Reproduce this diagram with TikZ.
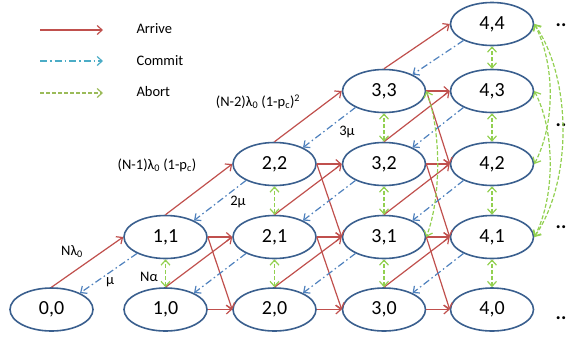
\documentclass[tikz,border=0pt]{standalone}
\usepackage{fontspec}
\setmainfont{Carlito}
\usetikzlibrary{arrows.meta,shapes.geometric}
\definecolor{arrred}{HTML}{C0504D}
\definecolor{comblue}{HTML}{4F81BD}
\definecolor{comcyan}{HTML}{4BACC6}
\definecolor{abgreen}{HTML}{92D050}
\definecolor{aboliv}{HTML}{9BBB59}
\definecolor{stline}{HTML}{3A5F8E}
\begin{document}
\begin{tikzpicture}[x=1pt,y=-1pt,font=\fontsize{14.5}{16}\selectfont,>={Straight Barb[length=5pt,width=9pt]},
  st/.style={draw=stline,line width=1.6pt,ellipse,minimum width=83pt,minimum height=43pt,inner sep=0pt,font=\fontsize{20}{22}\selectfont},
  arr/.style={draw=arrred,line width=1.2pt,->},
  com/.style={draw=comblue,line width=1.2pt,dash pattern=on 7pt off 3pt on 1.5pt off 3pt,->},
  abt/.style={draw=abgreen,line width=1.2pt,dash pattern=on 4pt off 2pt,<->},
  lbl/.style={inner sep=1pt},
  dts/.style={inner sep=0pt,font=\fontsize{20}{22}\selectfont\bfseries}]
  \useasboundingbox (0,0) rectangle (567,341);
  \coordinate (la0) at (40,30); \coordinate (la1) at (103,30);
  \coordinate (lc0) at (40,61); \coordinate (lc1) at (103,61);
  \coordinate (lb0) at (40,93); \coordinate (lb1) at (103,93);
  \draw[arr] (la0) -- (la1);
  \draw[com,draw=comcyan] (lc0) -- (lc1);
  \draw[abt,draw=aboliv,->] (lb0) -- (lb1);
  \node[anchor=west] (tarr) at (133,29) {Arrive};
  \node[anchor=west] (tcom) at (133,61) {Commit};
  \node[anchor=west] (tabt) at (133,92) {Abort};
  \node[st] (s00) at (51.5,309.5){0,0};
  \node[st] (s10) at (165.5,309.5){1,0};
  \node[st] (s11) at (165.5,237){1,1};
  \node[st] (s20) at (274.5,309.5){2,0};
  \node[st] (s21) at (274.5,237){2,1};
  \node[st] (s22) at (274.5,164){2,2};
  \node[st] (s30) at (384,309.5){3,0};
  \node[st] (s31) at (384,237){3,1};
  \node[st] (s32) at (384,164){3,2};
  \node[st] (s33) at (384,91){3,3};
  \node[st] (s40) at (492,309.5){4,0};
  \node[st] (s41) at (492,237){4,1};
  \node[st] (s42) at (492,164){4,2};
  \node[st] (s43) at (492,91){4,3};
  \node[st] (s44) at (492,24){4,4};
  \node[dts] (d4) at (561,25){..};
  \node[dts] (d3) at (561,125){..};
  \node[dts] (d1) at (561,227){..};
  \node[dts] (d0) at (561,318){..};
  \draw[arr] (s00.north) -- (s11.west);
  \draw[arr] (s10.north) -- (s21.west);
  \draw[arr] (s11.north) -- (s22.west);
  \draw[arr] (s20.north) -- (s31.west);
  \draw[arr] (s21.north) -- (s32.west);
  \draw[arr] (s22.north) -- (s33.west);
  \draw[arr] (s30.north) -- (s41.west);
  \draw[arr] (s31.north) -- (s42.west);
  \draw[arr] (s32.north) -- (s43.west);
  \draw[arr] (s33.north) -- (s44.west);
  \draw[arr] (s10.east) -- (s20.west);
  \draw[arr] (s11.east) -- (s21.west);
  \draw[arr] (s20.east) -- (s30.west);
  \draw[arr] (s21.east) -- (s31.west);
  \draw[arr] (s22.east) -- (s32.west);
  \draw[arr] (s30.east) -- (s40.west);
  \draw[arr] (s31.east) -- (s41.west);
  \draw[arr] (s32.east) -- (s42.west);
  \draw[arr] (s33.east) -- (s43.west);
  \draw[arr] (s11.east) -- (s20.west);
  \draw[arr] (s21.east) -- (s30.west);
  \draw[arr] (s22.east) -- (s31.west);
  \draw[arr] (s31.east) -- (s40.west);
  \draw[arr] (s32.east) -- (s41.west);
  \draw[arr] (s33.east) -- (s42.west);
  \draw[com] (s11.210) -- (s00.30);
  \draw[com] (s21.210) -- (s10.30);
  \draw[com] (s22.210) -- (s11.30);
  \draw[com] (s31.210) -- (s20.30);
  \draw[com] (s32.210) -- (s21.30);
  \draw[com] (s33.210) -- (s22.30);
  \draw[com] (s41.210) -- (s30.30);
  \draw[com] (s42.210) -- (s31.30);
  \draw[com] (s43.210) -- (s32.30);
  \draw[com] (s44.210) -- (s33.30);
  \draw[abt] (s10.north) -- (s11.south);
  \draw[abt] (s20.north) -- (s21.south);
  \draw[abt] (s21.north) -- (s22.south);
  \draw[abt] (s30.north) -- (s31.south);
  \draw[abt] (s31.north) -- (s32.south);
  \draw[abt] (s32.north) -- (s33.south);
  \draw[abt] (s40.north) -- (s41.south);
  \draw[abt] (s41.north) -- (s42.south);
  \draw[abt] (s42.north) -- (s43.south);
  \draw[abt] (s43.north) -- (s44.south);
  \draw[abt] (s33.east) .. controls +(15,40) and +(15,-40) .. (s31.east);
  \draw[abt] (s44.east) .. controls +(21,40) and +(21,-40) .. (s42.east);
  \draw[abt] (s43.east) .. controls +(21,40) and +(21,-40) .. (s41.east);
  \draw[abt] (s44.east) .. controls +(38,55) and +(38,-55) .. (s41.east);
  \node[lbl] (lnl) at (72,252){Nλ\textsubscript{0}};
  \node[lbl] (lmu1) at (110,282){μ};
  \node[lbl] (lna) at (149,277){Nα};
  \node[lbl] (lmu2) at (238,202){2μ};
  \node[lbl] (lmu3) at (347,132){3μ};
  \node[lbl] (ln1) at (157,165){(N-1)λ\textsubscript{0} (1-p\textsubscript{c})};
  \node[lbl] (ln2) at (258,102){(N-2)λ\textsubscript{0} (1-p\textsubscript{c})\textsuperscript{2}};
\end{tikzpicture}
\end{document}
